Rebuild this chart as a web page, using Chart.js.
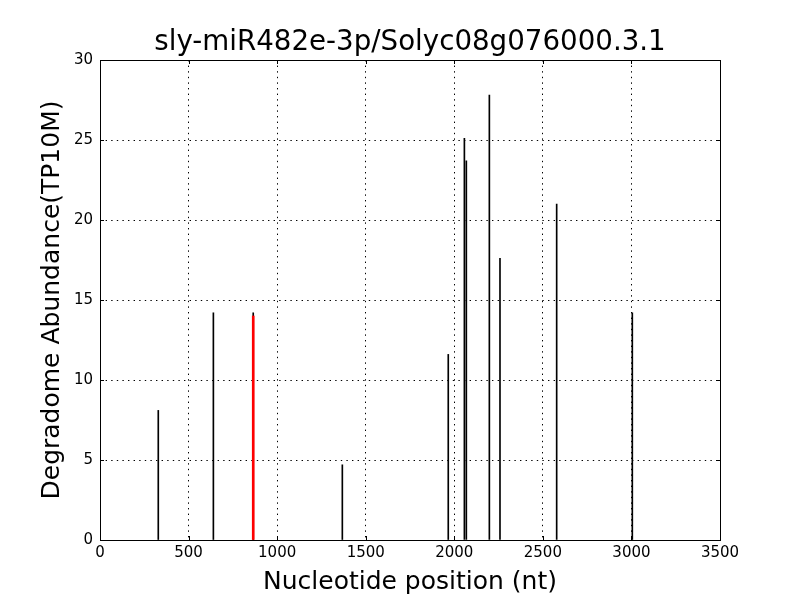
<!DOCTYPE html>
<html>
<head>
<meta charset="utf-8">
<script src="https://cdn.jsdelivr.net/npm/chart.js@4/dist/chart.umd.min.js"></script>
<style>
html,body{margin:0;padding:0;background:#fff;}
#wrap{width:800px;height:600px;}
</style>
</head>
<body>
<div id="wrap"><canvas id="c" width="800" height="600"></canvas></div>
<script>
const titleText = "sly-miR482e-3p/Solyc08g076000.3.1";
const xLabel = "Nucleotide position (nt)";
const yLabel = "Degradome Abundance(TP10M)";
const positions = [329, 640, 865, 1368, 1966, 2057, 2068, 2198, 2258, 2578, 3005];
const abundances = [8.1, 14.2, 14.2, 4.7, 11.6, 25.1, 23.7, 27.8, 17.6, 21.0, 14.2];
const targetPositions = [865];
const targetAbundances = [14.0];
const xTicks = [0, 500, 1000, 1500, 2000, 2500, 3000, 3500];
const yTicks = [0, 5, 10, 15, 20, 25, 30];

const font = "'DejaVu Sans', sans-serif";

const frame = {
  id: 'frame',
  afterDraw(chart) {
    const {ctx, chartArea: a, scales} = chart;
    ctx.save();
    ctx.strokeStyle = '#000';
    ctx.lineWidth = 1;
    ctx.setLineDash([]);
    ctx.beginPath();
    const L = 4;
    xTicks.forEach(v => {
      const p = Math.round(scales.x.getPixelForValue(v)) + 0.5;
      ctx.moveTo(p, a.bottom); ctx.lineTo(p, a.bottom - L);
      ctx.moveTo(p, a.top); ctx.lineTo(p, a.top + L);
    });
    yTicks.forEach(v => {
      const p = Math.round(scales.y.getPixelForValue(v)) + 0.5;
      ctx.moveTo(a.left, p); ctx.lineTo(a.left + L, p);
      ctx.moveTo(a.right, p); ctx.lineTo(a.right - L, p);
    });
    ctx.stroke();
    ctx.strokeRect(Math.round(a.left) + 0.5, Math.round(a.top) + 0.5, Math.round(a.right - a.left), Math.round(a.bottom - a.top));
    // title centred over the plot area
    ctx.fillStyle = '#000';
    ctx.font = "27.7px " + font;
    ctx.textAlign = 'center';
    ctx.textBaseline = 'middle';
    ctx.fillText(titleText, (a.left + a.right) / 2, 43);
    ctx.restore();
  }
};

new Chart(document.getElementById('c'), {
  type: 'bar',
  data: {
    datasets: [
      {
        data: positions.map((p, i) => ({x: p, y: abundances[i]})),
        backgroundColor: '#000',
        borderWidth: 0,
        barThickness: 1,
        grouped: false,
        order: 2
      },
      {
        data: targetPositions.map((p, i) => ({x: p, y: targetAbundances[i]})),
        backgroundColor: '#ff0000',
        borderWidth: 0,
        barThickness: 2,
        grouped: false,
        order: 1
      }
    ]
  },
  plugins: [frame],
  options: {
    responsive: false,
    animation: false,
    layout: {padding: {left: 37, right: 80, top: 60, bottom: 3}},
    plugins: {
      legend: {display: false},
      tooltip: {enabled: false},
      title: {display: false}
    },
    scales: {
      x: {
        type: 'linear',
        min: 0, max: 3500,
        offset: false,
        afterBuildTicks(s) { s.ticks = xTicks.map(v => ({value: v})); },
        afterFit(s) { s.height = 57; },
        ticks: {color: '#000', font: {family: font, size: 15}, padding: 4, maxRotation: 0, callback: v => String(v)},
        grid: {color: '#000', offset: false, drawTicks: false, lineWidth: 1},
        border: {display: false, dash: [1.4, 4.2]},
        title: {display: true, text: xLabel, color: '#000', font: {family: font, size: 25}, padding: {top: 0, bottom: 0}}
      },
      y: {
        type: 'linear',
        min: 0, max: 30,
        afterBuildTicks(s) { s.ticks = yTicks.map(v => ({value: v})); },
        afterFit(s) { s.width = 63; },
        ticks: {color: '#000', font: {family: font, size: 15}, padding: 7, callback: v => String(v)},
        grid: {color: '#000', drawTicks: false, lineWidth: 1},
        border: {display: false, dash: [1.4, 4.2]},
        title: {display: true, text: yLabel, color: '#000', font: {family: font, size: 25}, padding: {top: 0, bottom: 0}}
      }
    }
  }
});
</script>
</body>
</html>
